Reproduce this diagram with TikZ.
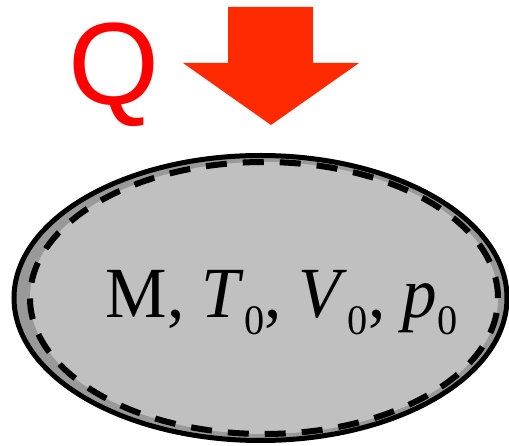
\documentclass[tikz,border=0pt]{standalone}
\usepackage{fontspec}
\setmainfont{Liberation Serif}
\newfontfamily\qfont{Liberation Sans}
\definecolor{qred}{HTML}{FF0000}
\definecolor{arrred}{HTML}{FF2A00}
\definecolor{bandgray}{HTML}{999999}
\definecolor{fillgray}{HTML}{C0C0C0}
\newcommand{\lowsub}[1]{\raisebox{-17pt}{\fontsize{42}{42}\selectfont #1}}
\tikzset{
  outerring/.style={draw=black, line width=5pt, fill=bandgray},
  innerring/.style={draw=black, line width=6pt, fill=fillgray, dash pattern=on 21pt off 16pt},
  heatarrow/.style={fill=arrred, draw=none},
  qlabel/.style={text=qred, font=\qfont\fontsize{117}{117}\selectfont, inner sep=0pt, anchor=base},
  statelabel/.style={font=\fontsize{72}{72}\selectfont, inner sep=0pt, anchor=base}
}
\begin{document}
\begin{tikzpicture}[x=1pt,y=-1pt]
\useasboundingbox (0,0) rectangle (509,446);
% heat arrow
\fill[heatarrow] (228,7) -- (313,7) -- (313,63) -- (359,63) -- (271,125) -- (183,63) -- (228,63) -- cycle;
\node[qlabel] (q) at (114,105) {Q};
% system
\path[outerring] (260.5,298) ellipse [x radius=246.5pt, y radius=142.5pt];
\path[innerring] (264,298) ellipse [x radius=234pt, y radius=136pt];
\node[statelabel] (state) at (281.5,318) {\scalebox{0.96}[1]{M, \textit{T}\lowsub{0}, \textit{V}\lowsub{0}, \textit{p}\lowsub{0}}};
\end{tikzpicture}
\end{document}
